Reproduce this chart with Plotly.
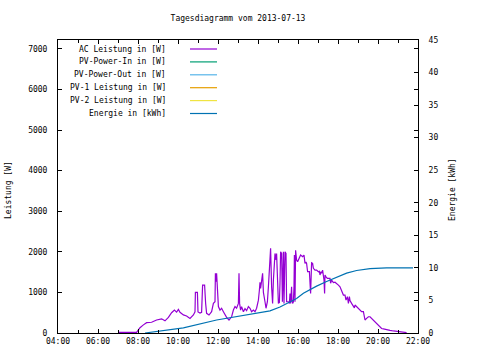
import plotly.graph_objects as go

# ---- data ----
ac_hours = [7.00, 7.93, 8.02, 8.10, 8.27, 8.43, 8.68, 8.93, 9.18, 9.35, 9.52, 9.68, 9.82, 9.93,
            10.02, 10.10, 10.27, 10.43, 10.60, 10.77, 10.85, 10.87, 10.97, 11.00, 11.10, 11.18,
            11.23, 11.33, 11.38, 11.43, 11.55, 11.68, 11.77, 11.85, 11.87, 11.90, 11.93, 11.97,
            12.02, 12.10, 12.18, 12.27, 12.35, 12.43, 12.55, 12.68, 12.77, 12.85, 12.93, 13.02,
            13.05, 13.08, 13.13, 13.18, 13.27, 13.35, 13.43, 13.52, 13.60, 13.68, 13.77, 13.85,
            13.93, 14.02, 14.07, 14.10, 14.13, 14.18, 14.23, 14.27, 14.32, 14.35, 14.40, 14.47,
            14.52, 14.57, 14.60, 14.63, 14.68, 14.73, 14.77, 14.82, 14.85, 14.90, 14.93, 15.02,
            15.07, 15.10, 15.13, 15.18, 15.22, 15.27, 15.30, 15.35, 15.40, 15.43, 15.52, 15.57,
            15.60, 15.63, 15.68, 15.70, 15.73, 15.77, 15.80, 15.82, 15.85, 15.88, 15.93, 15.98,
            16.07, 16.13, 16.23, 16.30, 16.35, 16.40, 16.43, 16.48, 16.57, 16.63, 16.68, 16.73,
            16.77, 16.85, 16.93, 17.02, 17.07, 17.10, 17.15, 17.18, 17.23, 17.30, 17.33, 17.35,
            17.40, 17.47, 17.60, 17.63, 17.68, 17.77, 17.85, 17.93, 18.02, 18.10, 18.18, 18.23,
            18.27, 18.35, 18.40, 18.47, 18.52, 18.57, 18.60, 18.68, 18.77, 18.82, 18.85, 18.93,
            19.02, 19.10, 19.18, 19.27, 19.32, 19.35, 19.43, 19.52, 19.60, 19.68, 19.77, 19.85,
            19.93, 20.02, 20.10, 20.18, 20.27, 20.43, 20.60, 20.77, 20.93, 21.10, 21.27, 21.43]
ac_watts = [15, 15, 75, 130, 200, 255, 265, 320, 350, 300, 385, 500, 565, 515,
            580, 510, 445, 420, 360, 445, 520, 1000, 1000, 520, 490, 510,
            1180, 1180, 740, 485, 443, 525, 730, 770, 1470, 1265, 1470, 975,
            650, 565, 608, 525, 443, 385, 320, 400, 565, 650, 610, 730,
            1470, 730, 565, 650, 525, 600, 550, 650, 610, 525, 565, 525,
            610, 810, 1060, 1250, 1100, 1385, 1470, 1000, 895, 770, 610, 770,
            1140, 1675, 2085, 2085, 1140, 730, 1305, 1800, 1960, 1800, 1960, 730,
            750, 1225, 2000, 1960, 770, 2000, 730, 2000, 1960, 770, 770, 730,
            975, 730, 1140, 800, 730, 770, 1140, 1920, 770, 2040, 1800, 1755,
            1840, 1920, 1880, 1920, 1715, 1750, 1715, 1510, 1510, 975, 1730, 1715,
            1595, 1550, 1550, 1510, 1520, 1430, 1510, 1470, 1550, 1305, 975, 1430,
            1385, 1345, 1345, 1225, 1305, 1240, 1250, 1225, 1180, 1140, 1060, 975,
            935, 935, 810, 895, 730, 895, 800, 730, 650, 620, 690, 650,
            610, 565, 525, 525, 400, 320, 360, 400, 400, 360, 320, 280,
            235, 195, 155, 110, 100, 75, 65, 50, 40, 25, 20, 10]

energy_hours = [8.35, 9.30, 10.27, 11.93, 13.60, 14.60, 15.10, 15.60, 15.93, 16.27, 16.60,
                16.93, 17.43, 17.93, 18.43, 18.93, 19.60, 20.43, 21.75]
energy_kwh = [0.0, 0.35, 0.8, 2.0, 2.9, 3.4, 4.0, 4.8, 5.3, 6.1, 6.7,
              7.2, 7.9, 8.6, 9.2, 9.6, 9.9, 10.0, 10.0]

series_names = ["AC Leistung in [W]", "PV-Power-In in [W]", "PV-Power-Out in [W]",
                "PV-1 Leistung in [W]", "PV-2 Leistung in [W]", "Energie in [kWh]"]
series_colors = ["#9400d3", "#009e73", "#56b4e9", "#e69f00", "#f0e442", "#0072b2"]

x_tickvals = [4, 6, 8, 10, 12, 14, 16, 18, 20, 22]
x_ticktext = ["04:00", "06:00", "08:00", "10:00", "12:00", "14:00", "16:00", "18:00", "20:00", "22:00"]
y1_tickvals = [0, 1000, 2000, 3000, 4000, 5000, 6000, 7000]
y2_tickvals = [0, 5, 10, 15, 20, 25, 30, 35, 40, 45]

FONT = "DejaVu Sans Mono"
W, H = 480, 360

fig = go.Figure()
fig.add_trace(go.Scatter(x=ac_hours, y=ac_watts, mode="lines", name=series_names[0],
                         line=dict(color=series_colors[0], width=1.2), showlegend=False))
fig.add_trace(go.Scatter(x=energy_hours, y=energy_kwh, mode="lines", name=series_names[5],
                         line=dict(color=series_colors[5], width=1.2), yaxis="y2", showlegend=False))

# gnuplot-style legend: text right-aligned, sample line to the right
row0 = (333 - 49) / 293
drow = 12.9 / 293
for i, (nm, col) in enumerate(zip(series_names, series_colors)):
    yy = row0 - i * drow
    fig.add_annotation(xref="paper", yref="paper", x=(168 - 58) / 360, y=yy, text=nm,
                       showarrow=False, xanchor="right", yanchor="middle",
                       font=dict(family=FONT, size=8, color="black"))
    fig.add_shape(type="line", xref="paper", yref="paper", x0=(190 - 58) / 360, x1=(217 - 58) / 360,
                  y0=yy, y1=yy, line=dict(color=col, width=1.2))

fig.add_annotation(xref="paper", yref="paper", x=(8 - 58) / 360, y=(333 - 190) / 293,
                   text="Leistung [W]", textangle=-90, showarrow=False,
                   xanchor="center", yanchor="middle",
                   font=dict(family=FONT, size=8, color="black"))
fig.add_annotation(xref="paper", yref="paper", x=(452 - 58) / 360, y=(333 - 190) / 293,
                   text="Energie [kWh]", textangle=-90, showarrow=False,
                   xanchor="center", yanchor="middle",
                   font=dict(family=FONT, size=8, color="black"))

fig.update_layout(
    width=W, height=H,
    margin=dict(l=58, r=W - 418, t=40, b=H - 333),
    paper_bgcolor="white", plot_bgcolor="white",
    font=dict(family=FONT, size=8, color="black"),
    title=dict(text="Tagesdiagramm vom 2013-07-13", x=238 / W, xanchor="center",
               y=1 - 18 / H, yanchor="middle", xref="container", yref="container",
               font=dict(family=FONT, size=8, color="black")),
    xaxis=dict(range=[4, 22], tickvals=x_tickvals, ticktext=x_ticktext, showgrid=False,
               zeroline=False, showline=True, linecolor="black", linewidth=1, mirror="ticks",
               ticks="inside", ticklen=4, tickcolor="black",
               minor=dict(dtick=1, ticks="inside", ticklen=3, tickcolor="black", showgrid=False)),
    yaxis=dict(range=[0, 7220], tickvals=y1_tickvals, showgrid=False, zeroline=False,
               showline=True, linecolor="black", linewidth=1, mirror="ticks",
               ticks="inside", ticklen=4, tickcolor="black", ticklabelstandoff=8),
    yaxis2=dict(range=[0, 45], tickvals=y2_tickvals, overlaying="y", side="right",
                showgrid=False, zeroline=False, showline=True, linecolor="black", linewidth=1,
                ticks="inside", ticklen=4, tickcolor="black", ticklabelstandoff=8),
)

fig.write_html("out.html", config={"displayModeBar": False},
               post_script="document.body.style.margin='0';document.body.style.overflow='hidden';")
